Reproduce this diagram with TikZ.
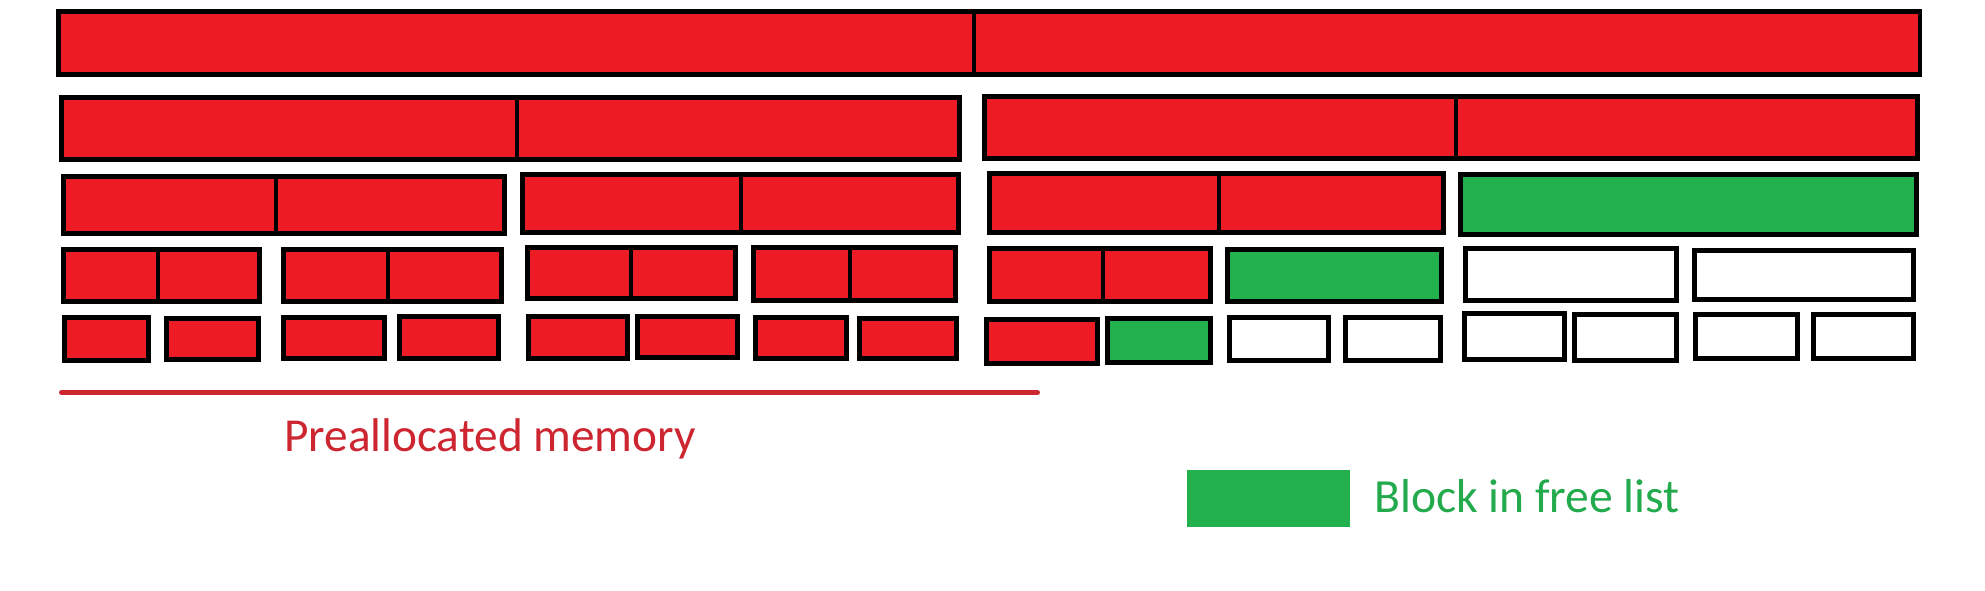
\documentclass[tikz,border=0pt]{standalone}
\usepackage{fontspec}
\setmainfont{Carlito}
\definecolor{pred}{RGB}{237,28,36}
\definecolor{pgreen}{RGB}{34,177,76}
\definecolor{tred}{RGB}{205,38,48}
\definecolor{tgreen}{RGB}{34,170,76}
\newcommand\blk[6]{\node[#1, minimum width={(#5)-(#3)}, minimum height={(#6)-(#4)}] (#2) at ({((#3)+(#5))/2},{((#4)+(#6))/2}) {};}
\begin{document}
\begin{tikzpicture}[x=1pt,y=-1pt,
  blkbase/.style={rectangle, draw=black, line width=4.8pt, inner sep=0pt, outer sep=0pt},
  usedbox/.style={blkbase, fill=pred},
  freebox/.style={blkbase, fill=pgreen},
  emptybox/.style={blkbase, fill=white},
  legendsw/.style={rectangle, fill=pgreen, inner sep=0pt, outer sep=0pt},
  prealine/.style={draw=tred, line width=5pt, line cap=round},
  prelabel/.style={text=tred, font=\fontsize{47.3}{50}\selectfont, anchor=base west, inner sep=0pt},
  freelabel/.style={text=tgreen, font=\fontsize{47.6}{50}\selectfont, anchor=base west, inner sep=0pt}]
\useasboundingbox[fill=white] (0,0) rectangle (1985,591);
% Row 1
\blk{usedbox}{a1}{58.5}{11.5}{974}{74.5}
\blk{usedbox}{a2}{974}{11.5}{1920}{74.5}
% Row 2
\blk{usedbox}{b1}{61.5}{97.25}{517}{159.75}
\blk{usedbox}{b2}{517}{97.25}{959.5}{159.75}
\blk{usedbox}{b3}{984.5}{96.25}{1456}{158.75}
\blk{usedbox}{b4}{1456}{96.25}{1917.5}{158.75}
% Row 3
\blk{usedbox}{c1}{63.5}{176.5}{276}{233.5}
\blk{usedbox}{c2}{276}{176.5}{504.5}{233.5}
\blk{usedbox}{c3}{522.5}{174.5}{741}{232.5}
\blk{usedbox}{c4}{741}{174.5}{958.5}{232.5}
\blk{usedbox}{c5}{989.5}{173.5}{1219}{232.5}
\blk{usedbox}{c6}{1219}{173.5}{1443.5}{232.5}
\blk{freebox}{c7}{1460.5}{174.5}{1916.5}{234.5}
% Row 4
\blk{usedbox}{d1}{63.5}{249.5}{158}{301.5}
\blk{usedbox}{d2}{158}{249.5}{259.5}{301.5}
\blk{usedbox}{d3}{283.5}{249.5}{388}{301.5}
\blk{usedbox}{d4}{388}{249.5}{501.5}{301.5}
\blk{usedbox}{d5}{527.5}{247.5}{631}{298.5}
\blk{usedbox}{d6}{631}{247.5}{735.5}{298.5}
\blk{usedbox}{d7}{753.5}{247.5}{850}{300.5}
\blk{usedbox}{d8}{850}{247.5}{955.5}{300.5}
\blk{usedbox}{d9}{989.5}{248.5}{1103}{301.5}
\blk{usedbox}{d10}{1103}{248.5}{1210.5}{301.5}
\blk{freebox}{d11}{1227.5}{249.5}{1441.5}{301.5}
\blk{emptybox}{d12}{1465.5}{248.5}{1676.5}{300.5}
\blk{emptybox}{d13}{1694.5}{250.5}{1913.5}{299.5}
% Row 5
\blk{usedbox}{e1}{64.5}{317.5}{148.5}{360.5}
\blk{usedbox}{e2}{166.5}{318.5}{258.5}{359.5}
\blk{usedbox}{e3}{283.5}{317.5}{384.5}{358.5}
\blk{usedbox}{e4}{399.5}{316.5}{498.5}{358.5}
\blk{usedbox}{e5}{528.5}{316.5}{627.5}{358.5}
\blk{usedbox}{e6}{637.5}{316.5}{737.5}{357.5}
\blk{usedbox}{e7}{755.5}{317.5}{846.5}{358.5}
\blk{usedbox}{e8}{859.5}{318.5}{956.5}{358.5}
\blk{usedbox}{e9}{986.5}{319.5}{1097.5}{363.5}
\blk{freebox}{e10}{1107.5}{318.5}{1210.5}{362.5}
\blk{emptybox}{e11}{1229.5}{317.5}{1328.5}{360.5}
\blk{emptybox}{e12}{1345.5}{317.5}{1440.5}{360.5}
\blk{emptybox}{e13}{1464.5}{313.5}{1564.5}{359.5}
\blk{emptybox}{e14}{1574.5}{314.5}{1676.5}{360.5}
\blk{emptybox}{e15}{1695.5}{314.5}{1797.5}{358.5}
\blk{emptybox}{e16}{1813.5}{314.5}{1913.5}{358.5}
% Preallocated memory
\coordinate (pl) at (61.5,392.5);
\coordinate (pr) at (1037.5,392.5);
\draw[prealine] (pl) -- (pr);
\node[prelabel] (pm) at (284,451) {Preallocated memory};
% Legend
\node[legendsw, minimum width=163, minimum height=57] (leg) at (1268.5,498.5) {};
\node[freelabel] (fl) at (1374,512) {Block in free list};
\end{tikzpicture}
\end{document}
